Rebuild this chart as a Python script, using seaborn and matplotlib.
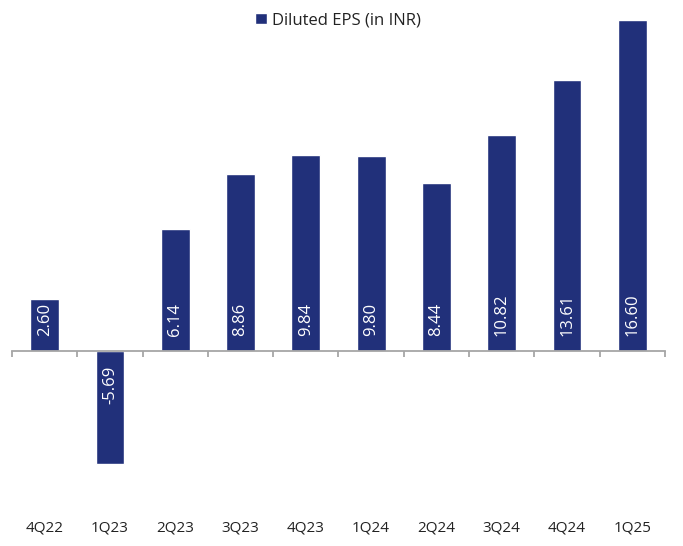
import pandas as pd
import matplotlib
matplotlib.use("Agg")
import matplotlib.pyplot as plt
import seaborn as sns

quarters = ["4Q22", "1Q23", "2Q23", "3Q23", "4Q23", "1Q24", "2Q24", "3Q24", "4Q24", "1Q25"]
eps = [2.60, -5.69, 6.14, 8.86, 9.84, 9.80, 8.44, 10.82, 13.61, 16.60]
series_name = "Diluted EPS (in INR)"

bar_color = "#21307a"
axis_color = "#a6a6a6"

sns.set_style("white")
plt.rcParams["font.family"] = ["Open Sans", "DejaVu Sans"]

df = pd.DataFrame({"quarter": quarters, "eps": eps, "series": series_name})

fig = plt.figure(figsize=(6.83, 5.46), dpi=100)
ax = fig.add_axes([12 / 683, (546 - 500.5) / 546, (665 - 12) / 683, (500.5 - 12) / 546])

sns.barplot(df, x="quarter", y="eps", hue="series", palette=[bar_color],
            width=0.44, saturation=1, ax=ax, legend=True)

ax.set_xlim(-0.5, 9.5)
ax.set_ylim(-7.5, 17)

for side in ["top", "right", "left"]:
    ax.spines[side].set_visible(False)
ax.spines["bottom"].set_position(("data", 0))
ax.spines["bottom"].set_color(axis_color)
ax.spines["bottom"].set_linewidth(1.3)
ax.set_yticks([])
ax.set_xlabel("")
ax.set_ylabel("")

ax.set_xticks(range(len(quarters)))
ax.set_xticklabels(quarters, fontsize=11, color="#222222")
ax.tick_params(axis="x", which="major", bottom=True, length=0, pad=122)
ax.set_xticks([i - 0.5 for i in range(len(quarters) + 1)], minor=True)
ax.tick_params(axis="x", which="minor", bottom=True, length=4, width=1.3,
               color=axis_color, direction="out")

for i, v in enumerate(eps):
    off = 11 if v >= 0 else -11
    ax.annotate(f"{v:.2f}", xy=(i, 0), xytext=(0, off), textcoords="offset points",
                rotation=90, ha="center", va="bottom" if v >= 0 else "top",
                color="white", fontsize=12)

handles, labels = ax.get_legend_handles_labels()
if ax.get_legend() is not None:
    ax.get_legend().remove()
fig.legend(handles, labels, loc="upper center", bbox_to_anchor=(0.495, 1.005),
           frameon=False, fontsize=12, handlelength=0.7, handleheight=0.7,
           handletextpad=0.3, labelcolor="#222222")

fig.savefig("out.png", dpi=100)
